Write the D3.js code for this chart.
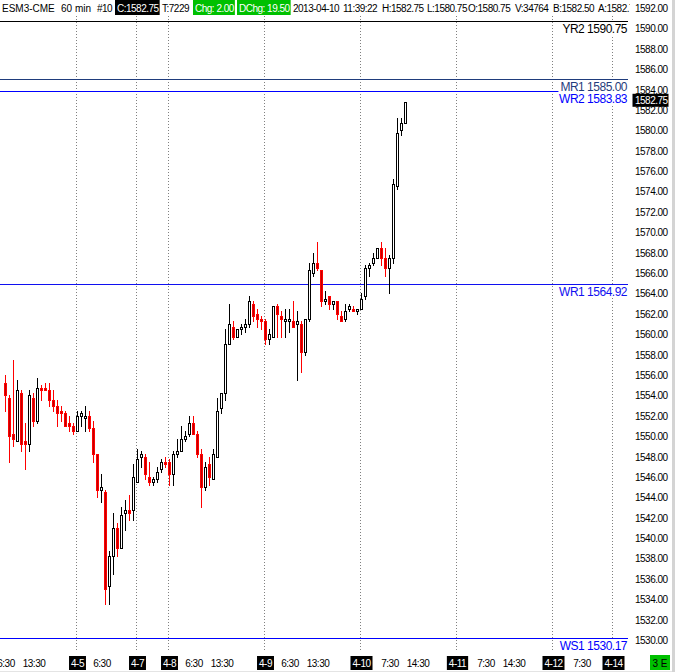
<!DOCTYPE html>
<html>
<head>
<meta charset="utf-8">
<script src="https://cdn.jsdelivr.net/npm/d3@7"></script>
<style>
body { margin: 0; background: #fff; }
svg { display: block; font-family: "Liberation Sans", Arial, sans-serif; }
</style>
</head>
<body>
<div id="chart"></div>
<script>
// ESM3-CME 60 min bars, index 0 = first bar on screen
const opens = [
  1555.25, 1553.75, 1550.25, 1549.5, 1554.25, 1549.5, 1549.25, 1553.75, 1551.5, 1554.75,
  1554.75, 1554.5, 1553.5, 1553.0, 1552.5, 1552.25, 1551.25, 1551.0, 1550.5, 1552.0,
  1551.75, 1552.0, 1550.75, 1548.25, 1544.75, 1544.5, 1535.25, 1538.25, 1541.0, 1539.0,
  1542.5, 1542.75, 1542.75, 1545.5, 1548.0, 1548.0, 1546.0, 1545.5, 1545.75, 1546.75,
  1547.5, 1547.5, 1546.25, 1548.25, 1548.5, 1549.75, 1550.25, 1551.25, 1550.25, 1548.25,
  1545.0, 1547.25, 1545.75, 1548.0, 1552.75, 1554.25, 1559.0, 1560.75, 1559.75, 1560.5,
  1560.75, 1561.0, 1563.0, 1562.0, 1561.5, 1561.25, 1559.5, 1559.75, 1562.75, 1561.75,
  1561.25, 1561.25, 1561.25, 1561.0, 1561.0, 1558.25, 1561.5, 1566.0, 1567.0, 1566.25,
  1563.25, 1563.75, 1563.0, 1563.25, 1561.75, 1561.5, 1562.5, 1562.5, 1562.25, 1562.5,
  1563.75, 1566.5, 1567.0, 1567.5, 1568.5, 1567.5, 1566.5, 1567.5, 1574.5, 1580.0, 1580.75
];
const highs = [
  1556.0, 1554.0, 1557.5, 1555.5, 1554.5, 1551.25, 1554.5, 1554.25, 1555.75, 1555.0,
  1555.25, 1555.25, 1554.5, 1553.5, 1553.0, 1552.5, 1552.0, 1551.25, 1552.5, 1552.5,
  1553.0, 1552.5, 1551.5, 1548.25, 1546.25, 1544.75, 1538.75, 1542.5, 1541.5, 1543.0,
  1543.75, 1544.25, 1547.25, 1548.75, 1548.5, 1548.25, 1547.5, 1546.0, 1547.0, 1547.75,
  1548.0, 1547.75, 1548.5, 1549.75, 1551.0, 1550.5, 1552.0, 1552.0, 1550.5, 1548.75,
  1547.5, 1548.0, 1548.75, 1553.75, 1554.25, 1560.5, 1563.0, 1561.25, 1560.5, 1561.0,
  1561.5, 1563.75, 1563.25, 1562.5, 1561.75, 1561.5, 1560.5, 1562.75, 1563.0, 1562.25,
  1562.5, 1562.5, 1563.25, 1562.25, 1561.25, 1561.5, 1567.0, 1568.0, 1569.0, 1566.25,
  1564.25, 1563.75, 1563.25, 1563.25, 1562.25, 1563.0, 1563.0, 1562.75, 1562.5, 1564.0,
  1566.75, 1567.0, 1568.0, 1568.5, 1569.0, 1568.5, 1567.75, 1575.25, 1581.25, 1581.25, 1582.75
];
const lows = [
  1552.5, 1547.5, 1549.0, 1549.5, 1548.5, 1546.75, 1548.5, 1551.0, 1551.25, 1553.5,
  1554.5, 1553.0, 1552.5, 1551.0, 1551.5, 1551.0, 1550.5, 1550.25, 1550.5, 1551.0,
  1550.5, 1550.5, 1547.5, 1544.0, 1543.5, 1533.5, 1533.5, 1536.5, 1538.25, 1539.0,
  1540.75, 1541.75, 1541.75, 1545.5, 1547.0, 1545.75, 1545.25, 1545.25, 1545.5, 1546.5,
  1547.0, 1545.25, 1545.25, 1548.0, 1548.5, 1549.5, 1550.0, 1550.25, 1548.0, 1543.0,
  1544.75, 1545.25, 1545.75, 1548.0, 1552.25, 1553.5, 1559.0, 1559.5, 1559.75, 1560.0,
  1560.25, 1560.75, 1561.25, 1560.75, 1560.5, 1559.0, 1559.0, 1559.75, 1559.75, 1559.75,
  1559.75, 1560.25, 1560.75, 1555.5, 1556.25, 1558.0, 1561.25, 1565.75, 1566.25, 1562.75,
  1563.0, 1562.5, 1562.5, 1561.5, 1561.25, 1561.25, 1562.25, 1562.25, 1562.0, 1562.5,
  1563.5, 1565.75, 1566.75, 1567.5, 1566.75, 1565.75, 1564.0, 1567.0, 1574.25, 1579.5, 1580.75
];
const closes = [
  1554.0, 1550.0, 1549.75, 1554.5, 1549.25, 1549.25, 1554.0, 1551.5, 1554.75, 1554.5,
  1554.5, 1553.5, 1553.0, 1552.25, 1552.25, 1551.0, 1551.0, 1550.5, 1552.0, 1552.25,
  1552.0, 1550.75, 1548.25, 1544.75, 1545.0, 1535.0, 1538.25, 1541.0, 1539.0, 1542.25,
  1542.75, 1542.5, 1546.0, 1547.75, 1548.25, 1546.25, 1545.5, 1545.75, 1546.5, 1547.5,
  1547.25, 1546.25, 1548.25, 1548.5, 1549.75, 1550.0, 1551.25, 1550.25, 1548.25, 1545.0,
  1547.0, 1546.0, 1548.25, 1552.5, 1554.25, 1559.0, 1561.0, 1559.75, 1560.5, 1560.75,
  1561.0, 1563.25, 1561.75, 1561.5, 1561.25, 1559.5, 1560.0, 1562.75, 1562.0, 1561.5,
  1561.5, 1561.5, 1560.75, 1561.25, 1558.25, 1561.5, 1566.25, 1567.0, 1566.5, 1563.25,
  1563.5, 1563.0, 1563.25, 1562.0, 1561.25, 1562.25, 1562.75, 1562.25, 1562.5, 1563.5,
  1566.5, 1566.75, 1567.5, 1568.5, 1567.5, 1566.5, 1567.5, 1574.75, 1579.75, 1580.75, 1582.75
];

// pivot levels
const levelNames = ['YR2', 'MR1', 'WR2', 'WR1', 'WS1'];
const levelValues = [1590.75, 1585.00, 1583.83, 1564.92, 1530.17];

// day separators (bar index of first bar of the day) and hour labels
const dayLabels = ['4-5', '4-7', '4-8', '4-9', '4-10', '4-11', '4-12', '4-14'];
const dayStarts = [18, 33, 41, 65, 89, 113, 137, 152];
const hourLabels = ['6:30', '13:30', '6:30', '6:30', '13:30', '6:30', '13:30', '7:30', '14:30', '7:30', '14:30', '7:30'];
const hourBars = [0, 7, 24, 47, 54, 71, 78, 96, 103, 120, 127, 144];

const priceTicks = d3.range(1530, 1593, 2);
const lastPrice = 1582.75;

const headerFields = ['ESM3-CME', '60 min', '#10', 'C:1582.75', 'T:7229', 'Chg: 2.00', 'DChg: 19.50',
  '2013-04-10', '11:39:22', 'H:1582.75', 'L:1580.75', 'O:1580.75', 'V:34764', 'B:1582.50', 'A:1582.75'];

const bars = opens.map((o, i) => ({ i: i, o: o, h: highs[i], l: lows[i], c: closes[i] }));

let width = 675, height = 672;
let plotRight = 628;

let xScale = d3.scaleLinear().domain([0, 100]).range([5.5, 405.5]);
let yScale = d3.scaleLinear().domain([1530, 1592]).range([640, 8]);
let py = (v) => Math.round(yScale(v));

let svg = d3.select('#chart').append('svg')
    .attr('width', width)
    .attr('height', height);

svg.append('rect').attr('width', width).attr('height', height).attr('fill', '#fff');

// day separators
svg.append('g').selectAll('line')
    .data(dayStarts)
    .join('line')
    .attr('x1', d => xScale(d - 0.25))
    .attr('x2', d => xScale(d - 0.25))
    .attr('y1', 16)
    .attr('y2', 652)
    .attr('stroke', '#808080')
    .attr('stroke-dasharray', '1,2');

// pivot lines
const levelColors = ['#000000', '#1f3c7c', '#0000ff', '#1010f0', '#0000ff'];
svg.append('g').selectAll('line')
    .data(levelValues)
    .join('line')
    .attr('x1', 0)
    .attr('x2', plotRight)
    .attr('y1', d => py(d) + 0.5)
    .attr('y2', d => py(d) + 0.5)
    .attr('stroke', (d, i) => levelColors[i]);

// candles
let candles = svg.append('g').attr('class', 'series');
let isDown = d => d.c < d.o;

candles.selectAll('line')
    .data(bars)
    .join('line')
    .attr('x1', d => xScale(d.i))
    .attr('x2', d => xScale(d.i))
    .attr('y1', d => py(d.h))
    .attr('y2', d => py(d.l) + 1)
    .attr('stroke', d => isDown(d) ? '#ff0000' : '#000');

candles.selectAll('rect')
    .data(bars)
    .join('rect')
    .attr('x', d => xScale(d.i) - 1)
    .attr('width', 2)
    .attr('y', d => py(Math.max(d.o, d.c)) + 0.5)
    .attr('height', d => Math.max(py(Math.min(d.o, d.c)) - py(Math.max(d.o, d.c)), 1))
    .attr('fill', d => isDown(d) ? '#c00000' : '#fff')
    .attr('stroke', d => isDown(d) ? '#ff0000' : '#000');

// pivot labels on white plates
let lbl = svg.append('g').style('font-size', '12px').style('letter-spacing', '-0.5px');
let plates = lbl.append('g');
let labelTexts = lbl.append('g');
levelValues.forEach((v, i) => {
    let t = labelTexts.append('text')
        .attr('x', plotRight - 1)
        .attr('y', py(v) + 12)
        .attr('text-anchor', 'end')
        .attr('fill', levelColors[i])
        .text(levelNames[i] + ' ' + d3.format('.2f')(v));
    let w = t.node().getComputedTextLength();
    plates.append('rect')
        .attr('x', plotRight - w - 3)
        .attr('y', py(v) + 1)
        .attr('width', w + 3)
        .attr('height', 13)
        .attr('fill', '#fff');
});

// price axis
let yAxis = d3.axisRight(yScale).tickValues(priceTicks).tickFormat(d3.format('.2f')).tickSize(0).tickPadding(0);
let ya = svg.append('g')
    .attr('class', 'y axis')
    .attr('transform', 'translate(635,0)')
    .call(yAxis);
ya.select('.domain').remove();
ya.selectAll('text')
    .attr('dy', null)
    .attr('y', 3.5)
    .attr('fill', '#000')
    .style('font-size', '10px')
    .style('letter-spacing', '-0.5px')
    .style('font-family', '"Liberation Sans", Arial, sans-serif');

// last price tag
let lp = svg.append('g');
lp.append('rect')
    .attr('x', 632.5)
    .attr('y', yScale(lastPrice) - 8.5)
    .attr('width', 36)
    .attr('height', 13)
    .attr('fill', '#000');
lp.append('text')
    .attr('x', 635)
    .attr('y', yScale(lastPrice) + 1.5)
    .attr('fill', '#fff')
    .style('font-size', '10px')
    .style('letter-spacing', '-0.5px')
    .text(d3.format('.2f')(lastPrice));

// time axis
let xAxis = d3.axisBottom(xScale).tickValues(hourBars).tickFormat((d, i) => hourLabels[i]).tickSize(0).tickPadding(0);
let xa = svg.append('g')
    .attr('class', 'x axis')
    .attr('transform', 'translate(0,667)')
    .call(xAxis);
xa.select('.domain').remove();
xa.selectAll('text')
    .attr('dy', null)
    .attr('y', 0)
    .attr('fill', '#000')
    .style('font-size', '10px')
    .style('letter-spacing', '-0.5px')
    .style('font-family', '"Liberation Sans", Arial, sans-serif');

let days = svg.append('g').style('font-size', '10px').style('letter-spacing', '-0.5px');
dayStarts.forEach((d, i) => {
    let g = days.append('g');
    let t = g.append('text')
        .attr('x', xScale(d))
        .attr('y', 667)
        .attr('text-anchor', 'middle')
        .attr('fill', '#fff')
        .text(dayLabels[i]);
    let w = t.node().getComputedTextLength();
    g.insert('rect', 'text')
        .attr('x', xScale(d) - w / 2 - 2)
        .attr('y', 656)
        .attr('width', w + 4)
        .attr('height', 14)
        .attr('fill', '#000');
});

// status box bottom right
svg.append('rect').attr('x', 650).attr('y', 655).attr('width', 20).attr('height', 15).attr('fill', '#00c000');
svg.append('text').attr('x', 660).attr('y', 667).attr('text-anchor', 'middle')
    .style('font-size', '10px').attr('fill', '#000').text('3 E');

// header strip
let headerX = [2, 61, 97, 115, 162, 193, 237, 293, 343, 382, 427, 468, 515, 553, 598];
let headerBg = [null, null, null, '#000', null, '#00c000', '#00c000', null, null, null, null, null, null, null, null];
svg.append('clipPath').attr('id', 'headClip')
    .append('rect').attr('width', 630).attr('height', 16);
let head = svg.append('g')
    .attr('clip-path', 'url(#headClip)')
    .style('font-size', '10px')
    .style('letter-spacing', '-0.5px');
headerFields.forEach((f, i) => {
    let g = head.append('g');
    let t = g.append('text')
        .attr('x', headerX[i] + (headerBg[i] ? 2 : 0))
        .attr('y', 12)
        .attr('fill', headerBg[i] ? '#fff' : '#000')
        .style('letter-spacing', i < 2 ? '0px' : null)
        .text(f);
    if (headerBg[i]) {
        let w = t.node().getComputedTextLength();
        g.insert('rect', 'text')
            .attr('x', headerX[i])
            .attr('y', 0)
            .attr('width', w + 3)
            .attr('height', 15)
            .attr('fill', headerBg[i]);
    }
});

// window edges
svg.append('rect').attr('x', 672).attr('y', 0).attr('width', 3).attr('height', height).attr('fill', '#d4d4d4');
svg.append('rect').attr('x', 0).attr('y', 671).attr('width', 672).attr('height', 1).attr('fill', '#e4e4e4');
</script>
</body>
</html>
